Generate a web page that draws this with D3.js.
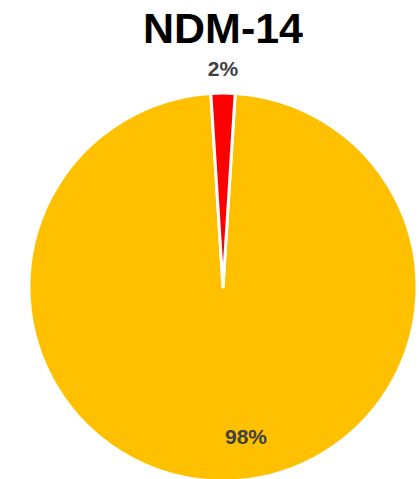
<!DOCTYPE html>
<html>
<head>
<meta charset="utf-8">
<script src="https://cdn.jsdelivr.net/npm/d3@7/dist/d3.min.js"></script>
<style>
  html, body { margin: 0; padding: 0; background: #ffffff; }
  svg { display: block; }
</style>
</head>
<body>
<div id="chart"></div>
<script>
// Share of isolates per category
const categories = ["Negative", "Positive"];
const values = [98, 2];
const labels = ["98%", "2%"];
const colors = ["#FFC000", "#FF0000"];
const title = "NDM-14";

const width = 419, height = 479;
const cx = 223, cy = 287, radius = 194;

const svg = d3.select("#chart").append("svg")
  .attr("width", width)
  .attr("height", height);

svg.append("text")
  .attr("x", cx)
  .attr("y", 43)
  .attr("text-anchor", "middle")
  .attr("font-family", "Liberation Sans, Arial, sans-serif")
  .attr("font-weight", "bold")
  .attr("font-size", 43)
  .attr("fill", "#000000")
  .text(title);

// The small slice is centred on twelve o'clock
const total = d3.sum(values);
const smallSpan = 2 * Math.PI * values[1] / total;
const pie = d3.pie()
  .sort(null)
  .value(d => d)
  .startAngle(smallSpan / 2)
  .endAngle(smallSpan / 2 + 2 * Math.PI);

const arcs = pie(values);
const arc = d3.arc().innerRadius(0).outerRadius(radius);

const g = svg.append("g").attr("transform", `translate(${cx},${cy})`);

g.selectAll("path")
  .data(arcs)
  .join("path")
  .attr("d", arc)
  .attr("fill", (d, i) => colors[i])
  .attr("stroke", "#ffffff")
  .attr("stroke-width", 3)
  .attr("stroke-linejoin", "round");

// Inside label for the large slice, outside label for the small one
const insideArc = d3.arc().innerRadius(radius * 0.77).outerRadius(radius * 0.77);
const outsideArc = d3.arc().innerRadius(radius + 24).outerRadius(radius + 24);

g.selectAll("text.lbl")
  .data(arcs)
  .join("text")
  .attr("class", "lbl")
  .attr("transform", (d, i) => {
    const [x, y] = i === 0 ? insideArc.centroid(d) : outsideArc.centroid(d);
    return `translate(${i === 0 ? x + 23 : x},${y})`;
  })
  .attr("text-anchor", "middle")
  .attr("dy", "0.35em")
  .attr("font-family", "Liberation Sans, Arial, sans-serif")
  .attr("font-weight", "bold")
  .attr("font-size", 21)
  .attr("fill", "#404040")
  .text((d, i) => labels[i]);
</script>
</body>
</html>
